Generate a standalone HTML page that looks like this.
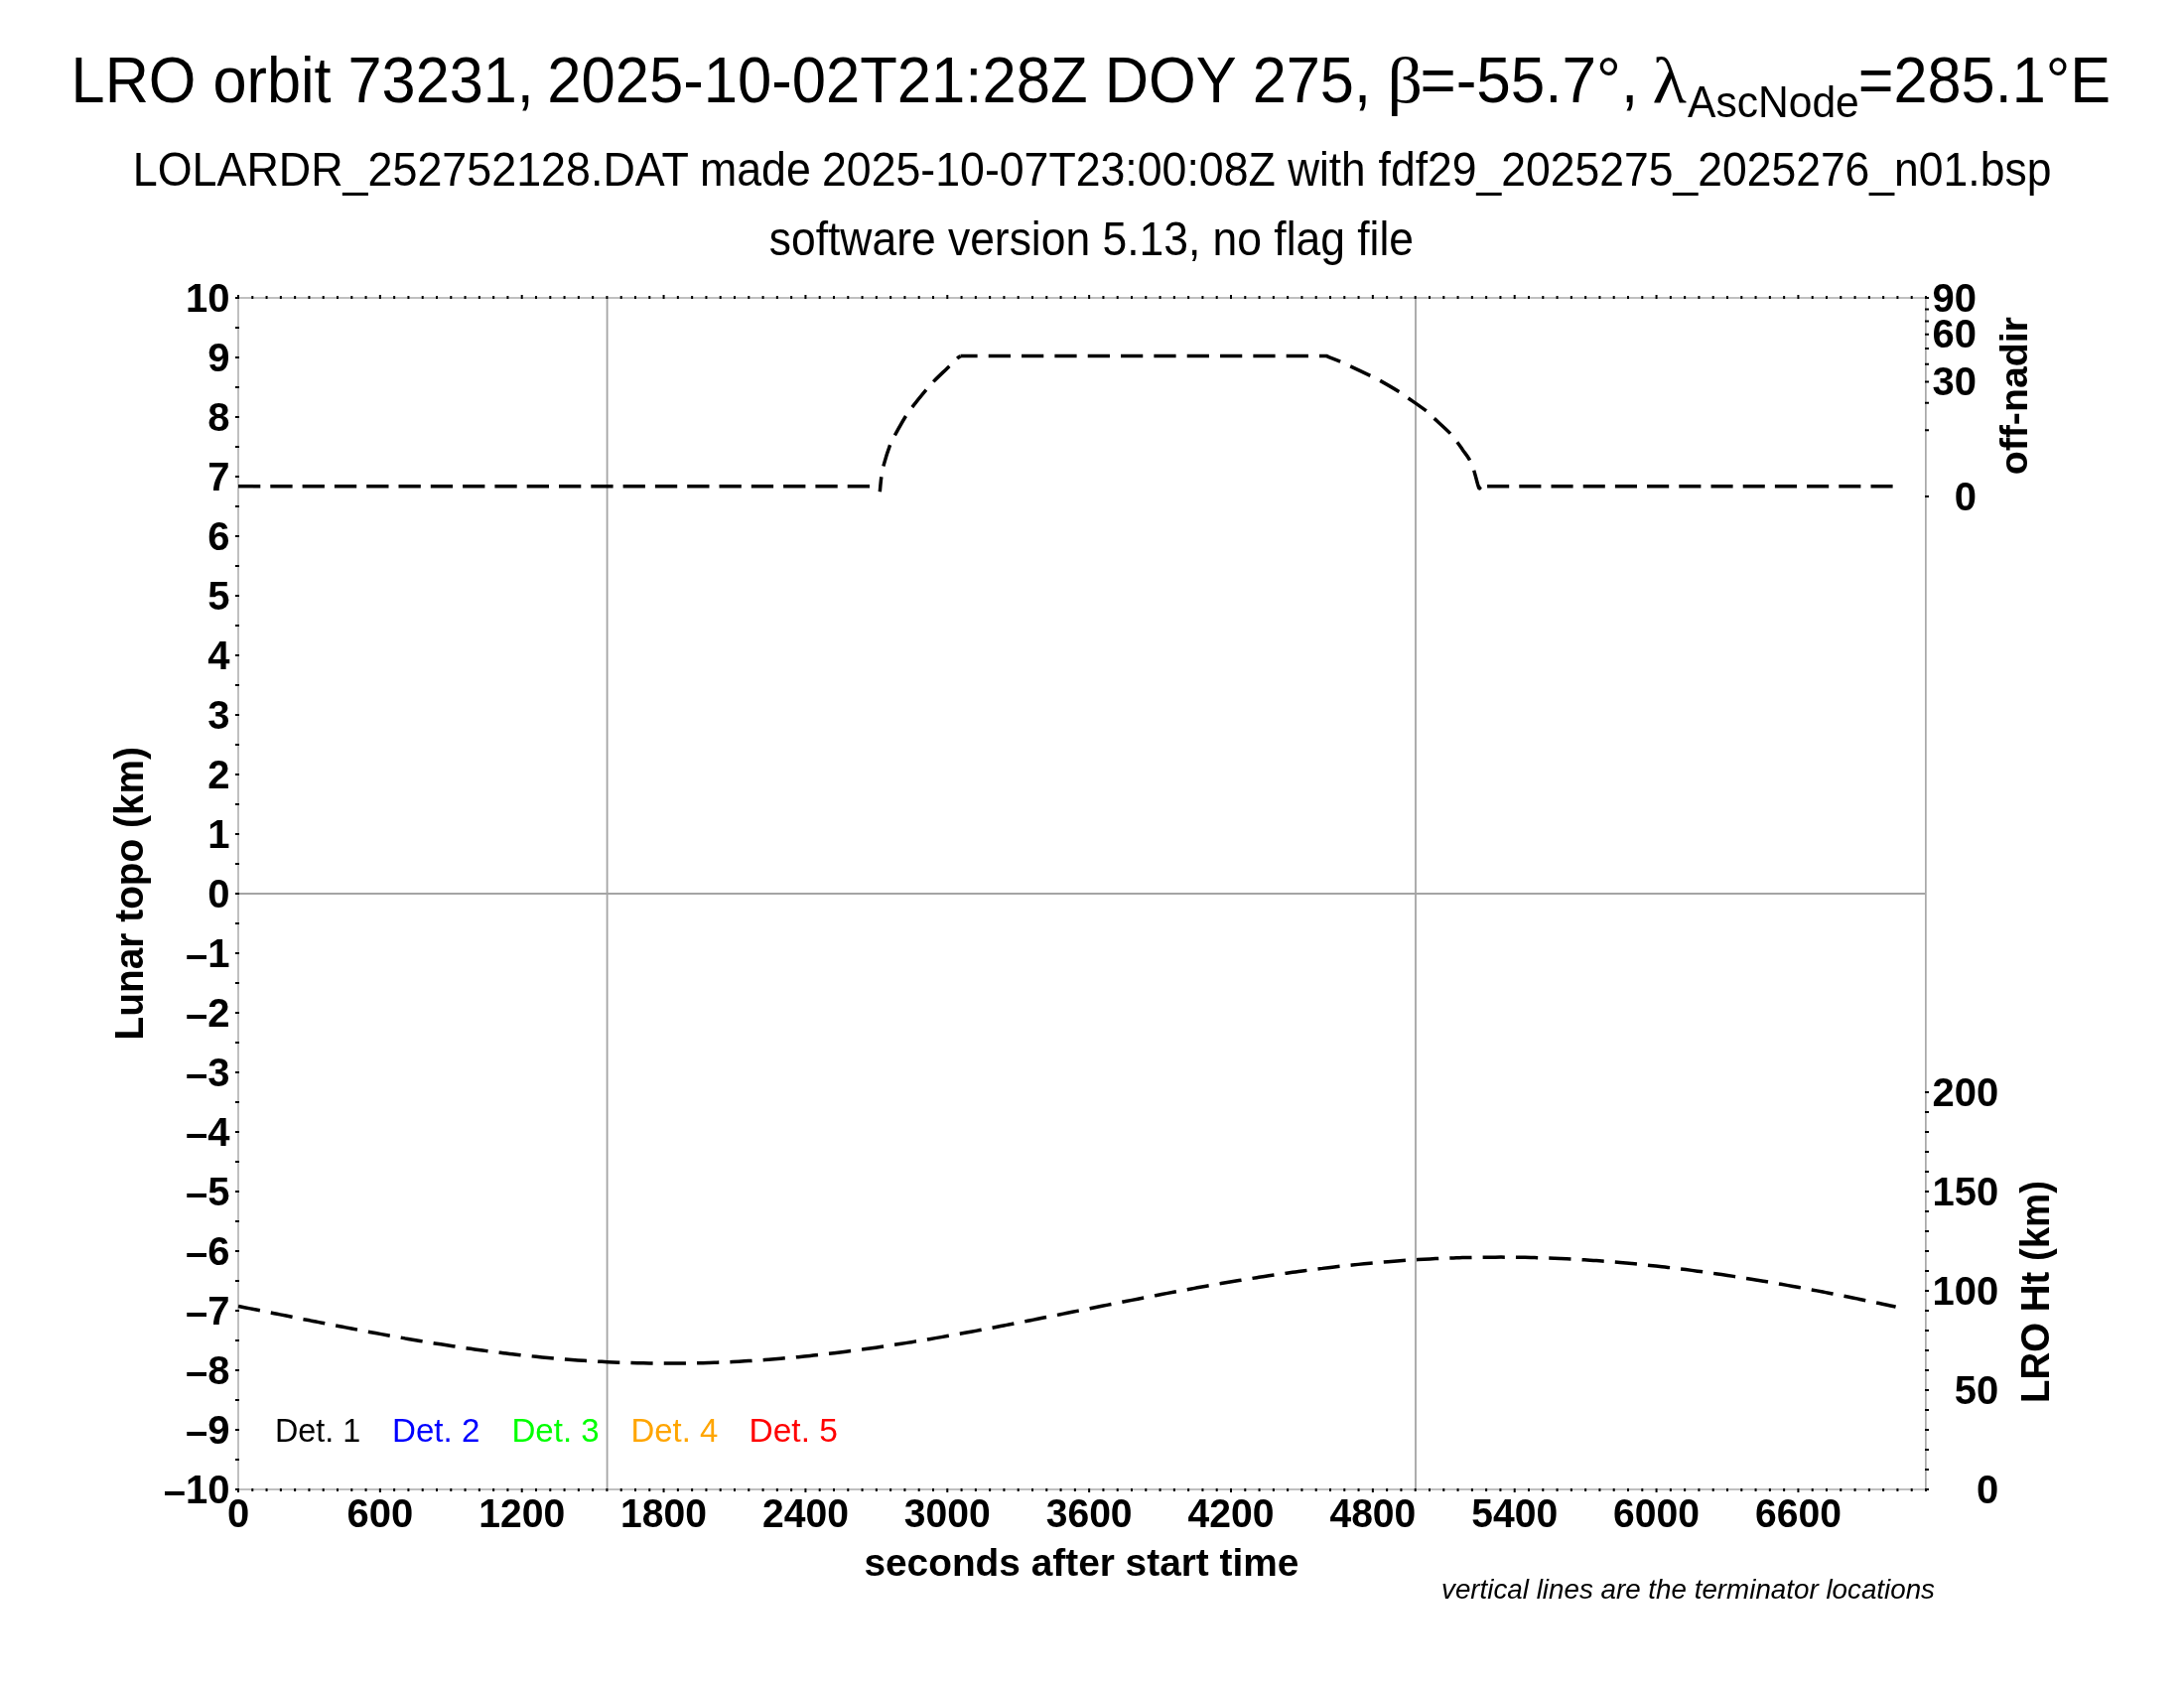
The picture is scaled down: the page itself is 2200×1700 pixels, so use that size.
<!DOCTYPE html><html><head><meta charset="utf-8"><style>html,body{margin:0;padding:0;background:#fff;width:2200px;height:1700px;overflow:hidden}svg{display:block;will-change:transform}text{font-family:"Liberation Sans",sans-serif}</style></head><body>
<svg width="2200" height="1700" viewBox="0 0 2200 1700">
<rect x="0" y="0" width="2200" height="1700" fill="#fff"/>
<line x1="240" y1="900" x2="1940" y2="900" stroke="#a4a4a4" stroke-width="2"/>
<line x1="611.6" y1="300" x2="611.6" y2="1500" stroke="#a4a4a4" stroke-width="1.8"/>
<line x1="1426.0" y1="300" x2="1426.0" y2="1500" stroke="#a4a4a4" stroke-width="1.8"/>
<rect x="240" y="300" width="1700" height="1200" fill="none" stroke="#c0c0c0" stroke-width="2"/>
<line x1="1939.5" y1="300" x2="1939.5" y2="1500" stroke="#a9a9a9" stroke-width="1"/>
<path d="M240.00 1499v4M240.00 301v-4M254.29 1499v3M254.29 301v-3M268.57 1499v3M268.57 301v-3M282.86 1499v3M282.86 301v-3M297.14 1499v3M297.14 301v-3M311.43 1499v3M311.43 301v-3M325.71 1499v3M325.71 301v-3M340.00 1499v3M340.00 301v-3M354.29 1499v3M354.29 301v-3M368.57 1499v3M368.57 301v-3M382.86 1499v4M382.86 301v-4M397.14 1499v3M397.14 301v-3M411.43 1499v3M411.43 301v-3M425.71 1499v3M425.71 301v-3M440.00 1499v3M440.00 301v-3M454.29 1499v3M454.29 301v-3M468.57 1499v3M468.57 301v-3M482.86 1499v3M482.86 301v-3M497.14 1499v3M497.14 301v-3M511.43 1499v3M511.43 301v-3M525.71 1499v4M525.71 301v-4M540.00 1499v3M540.00 301v-3M554.29 1499v3M554.29 301v-3M568.57 1499v3M568.57 301v-3M582.86 1499v3M582.86 301v-3M597.14 1499v3M597.14 301v-3M611.43 1499v3M611.43 301v-3M625.71 1499v3M625.71 301v-3M640.00 1499v3M640.00 301v-3M654.29 1499v3M654.29 301v-3M668.57 1499v4M668.57 301v-4M682.86 1499v3M682.86 301v-3M697.14 1499v3M697.14 301v-3M711.43 1499v3M711.43 301v-3M725.71 1499v3M725.71 301v-3M740.00 1499v3M740.00 301v-3M754.29 1499v3M754.29 301v-3M768.57 1499v3M768.57 301v-3M782.86 1499v3M782.86 301v-3M797.14 1499v3M797.14 301v-3M811.43 1499v4M811.43 301v-4M825.71 1499v3M825.71 301v-3M840.00 1499v3M840.00 301v-3M854.29 1499v3M854.29 301v-3M868.57 1499v3M868.57 301v-3M882.86 1499v3M882.86 301v-3M897.14 1499v3M897.14 301v-3M911.43 1499v3M911.43 301v-3M925.71 1499v3M925.71 301v-3M940.00 1499v3M940.00 301v-3M954.29 1499v4M954.29 301v-4M968.57 1499v3M968.57 301v-3M982.86 1499v3M982.86 301v-3M997.14 1499v3M997.14 301v-3M1011.43 1499v3M1011.43 301v-3M1025.71 1499v3M1025.71 301v-3M1040.00 1499v3M1040.00 301v-3M1054.29 1499v3M1054.29 301v-3M1068.57 1499v3M1068.57 301v-3M1082.86 1499v3M1082.86 301v-3M1097.14 1499v4M1097.14 301v-4M1111.43 1499v3M1111.43 301v-3M1125.71 1499v3M1125.71 301v-3M1140.00 1499v3M1140.00 301v-3M1154.29 1499v3M1154.29 301v-3M1168.57 1499v3M1168.57 301v-3M1182.86 1499v3M1182.86 301v-3M1197.14 1499v3M1197.14 301v-3M1211.43 1499v3M1211.43 301v-3M1225.71 1499v3M1225.71 301v-3M1240.00 1499v4M1240.00 301v-4M1254.29 1499v3M1254.29 301v-3M1268.57 1499v3M1268.57 301v-3M1282.86 1499v3M1282.86 301v-3M1297.14 1499v3M1297.14 301v-3M1311.43 1499v3M1311.43 301v-3M1325.71 1499v3M1325.71 301v-3M1340.00 1499v3M1340.00 301v-3M1354.29 1499v3M1354.29 301v-3M1368.57 1499v3M1368.57 301v-3M1382.86 1499v4M1382.86 301v-4M1397.14 1499v3M1397.14 301v-3M1411.43 1499v3M1411.43 301v-3M1425.71 1499v3M1425.71 301v-3M1440.00 1499v3M1440.00 301v-3M1454.29 1499v3M1454.29 301v-3M1468.57 1499v3M1468.57 301v-3M1482.86 1499v3M1482.86 301v-3M1497.14 1499v3M1497.14 301v-3M1511.43 1499v3M1511.43 301v-3M1525.71 1499v4M1525.71 301v-4M1540.00 1499v3M1540.00 301v-3M1554.29 1499v3M1554.29 301v-3M1568.57 1499v3M1568.57 301v-3M1582.86 1499v3M1582.86 301v-3M1597.14 1499v3M1597.14 301v-3M1611.43 1499v3M1611.43 301v-3M1625.71 1499v3M1625.71 301v-3M1640.00 1499v3M1640.00 301v-3M1654.29 1499v3M1654.29 301v-3M1668.57 1499v4M1668.57 301v-4M1682.86 1499v3M1682.86 301v-3M1697.14 1499v3M1697.14 301v-3M1711.43 1499v3M1711.43 301v-3M1725.71 1499v3M1725.71 301v-3M1740.00 1499v3M1740.00 301v-3M1754.29 1499v3M1754.29 301v-3M1768.57 1499v3M1768.57 301v-3M1782.86 1499v3M1782.86 301v-3M1797.14 1499v3M1797.14 301v-3M1811.43 1499v4M1811.43 301v-4M1825.71 1499v3M1825.71 301v-3M1840.00 1499v3M1840.00 301v-3M1854.29 1499v3M1854.29 301v-3M1868.57 1499v3M1868.57 301v-3M1882.86 1499v3M1882.86 301v-3M1897.14 1499v3M1897.14 301v-3M1911.43 1499v3M1911.43 301v-3M1925.71 1499v3M1925.71 301v-3M1940.00 1499v3M1940.00 301v-3M241 300h-4M241 330h-4M241 360h-4M241 390h-4M241 420h-4M241 450h-4M241 480h-4M241 510h-4M241 540h-4M241 570h-4M241 600h-4M241 630h-4M241 660h-4M241 690h-4M241 720h-4M241 750h-4M241 780h-4M241 810h-4M241 840h-4M241 870h-4M241 900h-4M241 930h-4M241 960h-4M241 990h-4M241 1020h-4M241 1050h-4M241 1080h-4M241 1110h-4M241 1140h-4M241 1170h-4M241 1200h-4M241 1230h-4M241 1260h-4M241 1290h-4M241 1320h-4M241 1350h-4M241 1380h-4M241 1410h-4M241 1440h-4M241 1470h-4M241 1500h-4M1939 500.00h4M1939 433.33h4M1939 405.72h4M1939 384.53h4M1939 366.67h4M1939 350.93h4M1939 336.70h4M1939 323.62h4M1939 311.44h4M1939 300.00h4M1939 1500.00h4M1939 1480.00h4M1939 1460.00h4M1939 1440.00h4M1939 1420.00h4M1939 1400.00h4M1939 1380.00h4M1939 1360.00h4M1939 1340.00h4M1939 1320.00h4M1939 1300.00h4M1939 1280.00h4M1939 1260.00h4M1939 1240.00h4M1939 1220.00h4M1939 1200.00h4M1939 1180.00h4M1939 1160.00h4M1939 1140.00h4M1939 1120.00h4M1939 1100.00h4" stroke="#000" stroke-width="2" fill="none"/>
<path d="M240 489.7L885.5 489.7" stroke="#000" stroke-width="3.5" fill="none" stroke-dasharray="22.3 10.0" stroke-dashoffset="0" stroke-linejoin="round"/>
<path d="M886.30 495.30C886.55 492.82 887.17 484.85 887.80 480.40C888.43 475.95 888.65 473.95 890.10 468.60C891.55 463.25 894.55 453.45 896.50 448.30C898.45 443.15 899.13 442.58 901.80 437.70C904.47 432.82 909.57 423.72 912.50 419.00C915.43 414.28 916.03 413.75 919.40 409.40C922.77 405.05 929.23 397.07 932.70 392.90C936.17 388.73 936.37 388.32 940.20 384.40C944.03 380.48 951.78 373.23 955.70 369.40C959.62 365.57 961.73 363.22 963.70 361.40C965.67 359.58 966.87 358.98 967.50 358.50" stroke="#000" stroke-width="3.5" fill="none" stroke-dasharray="22.22 11.11" stroke-dashoffset="7.2" stroke-linejoin="round"/>
<path d="M967.5 358.5L1336 358.5C1338.35 359.43 1346.05 362.37 1350.10 364.10C1354.15 365.83 1355.23 366.50 1360.30 368.90C1365.37 371.30 1375.53 376.10 1380.50 378.50C1385.47 380.90 1385.30 380.63 1390.10 383.30C1394.90 385.97 1404.58 391.57 1409.30 394.50C1414.02 397.43 1413.87 397.70 1418.40 400.90C1422.93 404.10 1432.15 410.32 1436.50 413.70C1440.85 417.08 1440.50 417.47 1444.50 421.20C1448.50 424.93 1456.68 432.20 1460.50 436.10C1464.32 440.00 1465.23 441.75 1467.40 444.60C1469.57 447.45 1471.37 450.17 1473.50 453.20C1475.63 456.23 1478.35 459.43 1480.20 462.80C1482.05 466.17 1483.03 468.70 1484.60 473.40C1486.17 478.10 1488.45 488.28 1489.60 491.00C1490.75 493.72 1491.18 489.92 1491.50 489.70" stroke="#000" stroke-width="3.5" fill="none" stroke-dasharray="22.22 11.11" stroke-dashoffset="5.1" stroke-linejoin="round"/>
<path d="M1491.5 489.7L1907.5 489.7" stroke="#000" stroke-width="3.5" fill="none" stroke-dasharray="22.1 10.1" stroke-dashoffset="25.6" stroke-linejoin="round"/>
<path d="M240.10 1315.46C241.10 1315.66 244.10 1316.26 246.10 1316.66C248.10 1317.06 250.10 1317.46 252.10 1317.85C254.10 1318.25 256.10 1318.65 258.10 1319.05C260.10 1319.45 262.10 1319.85 264.10 1320.25C266.10 1320.65 268.10 1321.06 270.10 1321.46C272.10 1321.86 274.10 1322.26 276.10 1322.66C278.10 1323.06 280.10 1323.46 282.10 1323.86C284.10 1324.26 286.10 1324.66 288.10 1325.06C290.10 1325.46 292.10 1325.86 294.10 1326.26C296.10 1326.66 298.10 1327.06 300.10 1327.46C302.10 1327.86 304.10 1328.26 306.10 1328.66C308.10 1329.05 310.10 1329.45 312.10 1329.85C314.10 1330.24 316.10 1330.64 318.10 1331.03C320.10 1331.43 322.10 1331.82 324.10 1332.22C326.10 1332.61 328.10 1333.00 330.10 1333.39C332.10 1333.79 334.10 1334.18 336.10 1334.57C338.10 1334.95 340.10 1335.34 342.10 1335.73C344.10 1336.12 346.10 1336.50 348.10 1336.89C350.10 1337.27 352.10 1337.65 354.10 1338.03C356.10 1338.42 358.10 1338.80 360.10 1339.17C362.10 1339.55 364.10 1339.93 366.10 1340.30C368.10 1340.68 370.10 1341.05 372.10 1341.42C374.10 1341.80 376.10 1342.17 378.10 1342.53C380.10 1342.90 382.10 1343.27 384.10 1343.63C386.10 1344.00 388.10 1344.36 390.10 1344.72C392.10 1345.08 394.10 1345.44 396.10 1345.79C398.10 1346.15 400.10 1346.50 402.10 1346.85C404.10 1347.20 406.10 1347.55 408.10 1347.90C410.10 1348.24 412.10 1348.59 414.10 1348.93C416.10 1349.27 418.10 1349.61 420.10 1349.95C422.10 1350.28 424.10 1350.62 426.10 1350.95C428.10 1351.28 430.10 1351.61 432.10 1351.93C434.10 1352.26 436.10 1352.58 438.10 1352.90C440.10 1353.22 442.10 1353.54 444.10 1353.85C446.10 1354.17 448.10 1354.48 450.10 1354.79C452.10 1355.09 454.10 1355.40 456.10 1355.70C458.10 1356.00 460.10 1356.30 462.10 1356.60C464.10 1356.89 466.10 1357.19 468.10 1357.48C470.10 1357.76 472.10 1358.05 474.10 1358.33C476.10 1358.62 478.10 1358.89 480.10 1359.17C482.10 1359.45 484.10 1359.72 486.10 1359.99C488.10 1360.25 490.10 1360.52 492.10 1360.78C494.10 1361.04 496.10 1361.30 498.10 1361.56C500.10 1361.81 502.10 1362.06 504.10 1362.31C506.10 1362.55 508.10 1362.80 510.10 1363.04C512.10 1363.27 514.10 1363.51 516.10 1363.74C518.10 1363.97 520.10 1364.20 522.10 1364.42C524.10 1364.65 526.10 1364.87 528.10 1365.08C530.10 1365.30 532.10 1365.51 534.10 1365.72C536.10 1365.93 538.10 1366.13 540.10 1366.33C542.10 1366.53 544.10 1366.73 546.10 1366.92C548.10 1367.11 550.10 1367.30 552.10 1367.48C554.10 1367.66 556.10 1367.84 558.10 1368.02C560.10 1368.19 562.10 1368.36 564.10 1368.53C566.10 1368.69 568.10 1368.85 570.10 1369.01C572.10 1369.17 574.10 1369.32 576.10 1369.47C578.10 1369.62 580.10 1369.76 582.10 1369.90C584.10 1370.04 586.10 1370.18 588.10 1370.31C590.10 1370.44 592.10 1370.57 594.10 1370.69C596.10 1370.81 598.10 1370.93 600.10 1371.04C602.10 1371.15 604.10 1371.26 606.10 1371.37C608.10 1371.47 610.10 1371.57 612.10 1371.66C614.10 1371.76 616.10 1371.85 618.10 1371.93C620.10 1372.02 622.10 1372.10 624.10 1372.18C626.10 1372.25 628.10 1372.33 630.10 1372.39C632.10 1372.46 634.10 1372.52 636.10 1372.58C638.10 1372.64 640.10 1372.69 642.10 1372.74C644.10 1372.79 646.10 1372.83 648.10 1372.87C650.10 1372.91 652.10 1372.95 654.10 1372.98C656.10 1373.01 658.10 1373.03 660.10 1373.05C662.10 1373.07 664.10 1373.09 666.10 1373.10C668.10 1373.11 670.10 1373.12 672.10 1373.12C674.10 1373.12 676.10 1373.12 678.10 1373.11C680.10 1373.11 682.10 1373.09 684.10 1373.08C686.10 1373.06 688.10 1373.04 690.10 1373.01C692.10 1372.99 694.10 1372.96 696.10 1372.92C698.10 1372.89 700.10 1372.85 702.10 1372.80C704.10 1372.76 706.10 1372.71 708.10 1372.65C710.10 1372.60 712.10 1372.54 714.10 1372.48C716.10 1372.42 718.10 1372.35 720.10 1372.28C722.10 1372.20 724.10 1372.13 726.10 1372.04C728.10 1371.96 730.10 1371.88 732.10 1371.79C734.10 1371.70 736.10 1371.60 738.10 1371.50C740.10 1371.40 742.10 1371.30 744.10 1371.19C746.10 1371.08 748.10 1370.97 750.10 1370.85C752.10 1370.74 754.10 1370.61 756.10 1370.49C758.10 1370.36 760.10 1370.23 762.10 1370.10C764.10 1369.96 766.10 1369.82 768.10 1369.68C770.10 1369.53 772.10 1369.39 774.10 1369.23C776.10 1369.08 778.10 1368.93 780.10 1368.77C782.10 1368.60 784.10 1368.44 786.10 1368.27C788.10 1368.10 790.10 1367.93 792.10 1367.75C794.10 1367.57 796.10 1367.39 798.10 1367.21C800.10 1367.02 802.10 1366.83 804.10 1366.64C806.10 1366.44 808.10 1366.25 810.10 1366.04C812.10 1365.84 814.10 1365.64 816.10 1365.43C818.10 1365.22 820.10 1365.00 822.10 1364.79C824.10 1364.57 826.10 1364.35 828.10 1364.12C830.10 1363.90 832.10 1363.67 834.10 1363.43C836.10 1363.20 838.10 1362.96 840.10 1362.72C842.10 1362.48 844.10 1362.24 846.10 1361.99C848.10 1361.75 850.10 1361.49 852.10 1361.24C854.10 1360.99 856.10 1360.73 858.10 1360.47C860.10 1360.20 862.10 1359.94 864.10 1359.67C866.10 1359.40 868.10 1359.13 870.10 1358.85C872.10 1358.58 874.10 1358.30 876.10 1358.02C878.10 1357.74 880.10 1357.45 882.10 1357.16C884.10 1356.87 886.10 1356.58 888.10 1356.29C890.10 1355.99 892.10 1355.70 894.10 1355.40C896.10 1355.09 898.10 1354.79 900.10 1354.48C902.10 1354.18 904.10 1353.87 906.10 1353.55C908.10 1353.24 910.10 1352.93 912.10 1352.61C914.10 1352.29 916.10 1351.97 918.10 1351.65C920.10 1351.32 922.10 1351.00 924.10 1350.67C926.10 1350.34 928.10 1350.01 930.10 1349.67C932.10 1349.34 934.10 1349.00 936.10 1348.66C938.10 1348.32 940.10 1347.98 942.10 1347.64C944.10 1347.29 946.10 1346.95 948.10 1346.60C950.10 1346.25 952.10 1345.90 954.10 1345.55C956.10 1345.19 958.10 1344.84 960.10 1344.48C962.10 1344.12 964.10 1343.76 966.10 1343.40C968.10 1343.04 970.10 1342.68 972.10 1342.31C974.10 1341.95 976.10 1341.58 978.10 1341.21C980.10 1340.84 982.10 1340.47 984.10 1340.10C986.10 1339.73 988.10 1339.35 990.10 1338.98C992.10 1338.60 994.10 1338.22 996.10 1337.85C998.10 1337.47 1000.10 1337.09 1002.10 1336.71C1004.10 1336.32 1006.10 1335.94 1008.10 1335.56C1010.10 1335.17 1012.10 1334.79 1014.10 1334.40C1016.10 1334.01 1018.10 1333.62 1020.10 1333.24C1022.10 1332.85 1024.10 1332.46 1026.10 1332.06C1028.10 1331.67 1030.10 1331.28 1032.10 1330.89C1034.10 1330.49 1036.10 1330.10 1038.10 1329.70C1040.10 1329.31 1042.10 1328.91 1044.10 1328.52C1046.10 1328.12 1048.10 1327.72 1050.10 1327.33C1052.10 1326.93 1054.10 1326.53 1056.10 1326.13C1058.10 1325.73 1060.10 1325.33 1062.10 1324.93C1064.10 1324.53 1066.10 1324.13 1068.10 1323.73C1070.10 1323.33 1072.10 1322.93 1074.10 1322.53C1076.10 1322.13 1078.10 1321.73 1080.10 1321.33C1082.10 1320.92 1084.10 1320.52 1086.10 1320.12C1088.10 1319.72 1090.10 1319.32 1092.10 1318.92C1094.10 1318.52 1096.10 1318.11 1098.10 1317.71C1100.10 1317.31 1102.10 1316.91 1104.10 1316.51C1106.10 1316.11 1108.10 1315.71 1110.10 1315.31C1112.10 1314.91 1114.10 1314.51 1116.10 1314.11C1118.10 1313.71 1120.10 1313.32 1122.10 1312.92C1124.10 1312.52 1126.10 1312.12 1128.10 1311.73C1130.10 1311.33 1132.10 1310.93 1134.10 1310.54C1136.10 1310.14 1138.10 1309.75 1140.10 1309.36C1142.10 1308.96 1144.10 1308.57 1146.10 1308.18C1148.10 1307.79 1150.10 1307.40 1152.10 1307.01C1154.10 1306.62 1156.10 1306.23 1158.10 1305.84C1160.10 1305.46 1162.10 1305.07 1164.10 1304.69C1166.10 1304.30 1168.10 1303.92 1170.10 1303.54C1172.10 1303.15 1174.10 1302.77 1176.10 1302.40C1178.10 1302.02 1180.10 1301.64 1182.10 1301.26C1184.10 1300.89 1186.10 1300.51 1188.10 1300.14C1190.10 1299.77 1192.10 1299.40 1194.10 1299.03C1196.10 1298.66 1198.10 1298.29 1200.10 1297.93C1202.10 1297.56 1204.10 1297.20 1206.10 1296.83C1208.10 1296.47 1210.10 1296.11 1212.10 1295.75C1214.10 1295.40 1216.10 1295.04 1218.10 1294.69C1220.10 1294.33 1222.10 1293.98 1224.10 1293.63C1226.10 1293.28 1228.10 1292.94 1230.10 1292.59C1232.10 1292.25 1234.10 1291.90 1236.10 1291.56C1238.10 1291.22 1240.10 1290.89 1242.10 1290.55C1244.10 1290.22 1246.10 1289.88 1248.10 1289.55C1250.10 1289.22 1252.10 1288.89 1254.10 1288.57C1256.10 1288.24 1258.10 1287.92 1260.10 1287.60C1262.10 1287.28 1264.10 1286.96 1266.10 1286.65C1268.10 1286.34 1270.10 1286.02 1272.10 1285.72C1274.10 1285.41 1276.10 1285.10 1278.10 1284.80C1280.10 1284.50 1282.10 1284.20 1284.10 1283.90C1286.10 1283.60 1288.10 1283.31 1290.10 1283.02C1292.10 1282.73 1294.10 1282.44 1296.10 1282.15C1298.10 1281.87 1300.10 1281.59 1302.10 1281.31C1304.10 1281.03 1306.10 1280.76 1308.10 1280.48C1310.10 1280.21 1312.10 1279.94 1314.10 1279.68C1316.10 1279.41 1318.10 1279.15 1320.10 1278.89C1322.10 1278.63 1324.10 1278.38 1326.10 1278.13C1328.10 1277.88 1330.10 1277.63 1332.10 1277.38C1334.10 1277.14 1336.10 1276.90 1338.10 1276.66C1340.10 1276.42 1342.10 1276.19 1344.10 1275.96C1346.10 1275.73 1348.10 1275.50 1350.10 1275.28C1352.10 1275.06 1354.10 1274.84 1356.10 1274.62C1358.10 1274.41 1360.10 1274.20 1362.10 1273.99C1364.10 1273.78 1366.10 1273.58 1368.10 1273.38C1370.10 1273.18 1372.10 1272.98 1374.10 1272.79C1376.10 1272.60 1378.10 1272.41 1380.10 1272.22C1382.10 1272.04 1384.10 1271.86 1386.10 1271.68C1388.10 1271.50 1390.10 1271.33 1392.10 1271.16C1394.10 1270.99 1396.10 1270.83 1398.10 1270.67C1400.10 1270.51 1402.10 1270.35 1404.10 1270.20C1406.10 1270.05 1408.10 1269.90 1410.10 1269.76C1412.10 1269.61 1414.10 1269.47 1416.10 1269.34C1418.10 1269.20 1420.10 1269.07 1422.10 1268.94C1424.10 1268.81 1426.10 1268.69 1428.10 1268.57C1430.10 1268.45 1432.10 1268.34 1434.10 1268.23C1436.10 1268.12 1438.10 1268.01 1440.10 1267.91C1442.10 1267.81 1444.10 1267.71 1446.10 1267.62C1448.10 1267.52 1450.10 1267.43 1452.10 1267.35C1454.10 1267.26 1456.10 1267.18 1458.10 1267.11C1460.10 1267.03 1462.10 1266.96 1464.10 1266.89C1466.10 1266.83 1468.10 1266.76 1470.10 1266.70C1472.10 1266.65 1474.10 1266.59 1476.10 1266.54C1478.10 1266.49 1480.10 1266.45 1482.10 1266.41C1484.10 1266.36 1486.10 1266.33 1488.10 1266.30C1490.10 1266.26 1492.10 1266.24 1494.10 1266.21C1496.10 1266.19 1498.10 1266.17 1500.10 1266.16C1502.10 1266.14 1504.10 1266.13 1506.10 1266.13C1508.10 1266.12 1510.10 1266.12 1512.10 1266.12C1514.10 1266.12 1516.10 1266.13 1518.10 1266.14C1520.10 1266.16 1522.10 1266.17 1524.10 1266.19C1526.10 1266.21 1528.10 1266.24 1530.10 1266.27C1532.10 1266.30 1534.10 1266.33 1536.10 1266.37C1538.10 1266.41 1540.10 1266.45 1542.10 1266.50C1544.10 1266.54 1546.10 1266.60 1548.10 1266.65C1550.10 1266.71 1552.10 1266.77 1554.10 1266.83C1556.10 1266.90 1558.10 1266.96 1560.10 1267.04C1562.10 1267.11 1564.10 1267.19 1566.10 1267.27C1568.10 1267.35 1570.10 1267.44 1572.10 1267.53C1574.10 1267.62 1576.10 1267.71 1578.10 1267.81C1580.10 1267.91 1582.10 1268.01 1584.10 1268.12C1586.10 1268.23 1588.10 1268.34 1590.10 1268.46C1592.10 1268.57 1594.10 1268.69 1596.10 1268.82C1598.10 1268.94 1600.10 1269.07 1602.10 1269.20C1604.10 1269.34 1606.10 1269.47 1608.10 1269.61C1610.10 1269.75 1612.10 1269.90 1614.10 1270.05C1616.10 1270.20 1618.10 1270.35 1620.10 1270.51C1622.10 1270.66 1624.10 1270.83 1626.10 1270.99C1628.10 1271.16 1630.10 1271.33 1632.10 1271.50C1634.10 1271.67 1636.10 1271.85 1638.10 1272.03C1640.10 1272.21 1642.10 1272.40 1644.10 1272.59C1646.10 1272.78 1648.10 1272.97 1650.10 1273.16C1652.10 1273.36 1654.10 1273.56 1656.10 1273.77C1658.10 1273.97 1660.10 1274.18 1662.10 1274.39C1664.10 1274.60 1666.10 1274.82 1668.10 1275.04C1670.10 1275.26 1672.10 1275.48 1674.10 1275.71C1676.10 1275.94 1678.10 1276.17 1680.10 1276.40C1682.10 1276.63 1684.10 1276.87 1686.10 1277.11C1688.10 1277.35 1690.10 1277.60 1692.10 1277.85C1694.10 1278.10 1696.10 1278.35 1698.10 1278.60C1700.10 1278.86 1702.10 1279.12 1704.10 1279.38C1706.10 1279.64 1708.10 1279.91 1710.10 1280.18C1712.10 1280.45 1714.10 1280.72 1716.10 1280.99C1718.10 1281.27 1720.10 1281.55 1722.10 1281.83C1724.10 1282.11 1726.10 1282.40 1728.10 1282.69C1730.10 1282.98 1732.10 1283.27 1734.10 1283.56C1736.10 1283.86 1738.10 1284.16 1740.10 1284.46C1742.10 1284.76 1744.10 1285.06 1746.10 1285.37C1748.10 1285.68 1750.10 1285.99 1752.10 1286.30C1754.10 1286.61 1756.10 1286.93 1758.10 1287.25C1760.10 1287.57 1762.10 1287.89 1764.10 1288.22C1766.10 1288.54 1768.10 1288.87 1770.10 1289.20C1772.10 1289.53 1774.10 1289.86 1776.10 1290.20C1778.10 1290.54 1780.10 1290.87 1782.10 1291.22C1784.10 1291.56 1786.10 1291.90 1788.10 1292.25C1790.10 1292.59 1792.10 1292.94 1794.10 1293.30C1796.10 1293.65 1798.10 1294.00 1800.10 1294.36C1802.10 1294.72 1804.10 1295.08 1806.10 1295.44C1808.10 1295.80 1810.10 1296.16 1812.10 1296.53C1814.10 1296.90 1816.10 1297.27 1818.10 1297.64C1820.10 1298.01 1822.10 1298.38 1824.10 1298.76C1826.10 1299.14 1828.10 1299.51 1830.10 1299.90C1832.10 1300.28 1834.10 1300.66 1836.10 1301.04C1838.10 1301.43 1840.10 1301.82 1842.10 1302.21C1844.10 1302.59 1846.10 1302.99 1848.10 1303.38C1850.10 1303.77 1852.10 1304.17 1854.10 1304.57C1856.10 1304.96 1858.10 1305.36 1860.10 1305.77C1862.10 1306.17 1864.10 1306.57 1866.10 1306.98C1868.10 1307.38 1870.10 1307.79 1872.10 1308.20C1874.10 1308.61 1876.10 1309.02 1878.10 1309.43C1880.10 1309.85 1882.10 1310.26 1884.10 1310.68C1886.10 1311.10 1888.10 1311.52 1890.10 1311.94C1892.10 1312.36 1894.10 1312.78 1896.10 1313.20C1898.10 1313.63 1900.10 1314.06 1902.10 1314.48C1904.10 1314.91 1906.85 1315.50 1908.10 1315.77C1909.35 1316.04 1909.35 1316.04 1909.60 1316.10" stroke="#000" stroke-width="3.5" fill="none" stroke-dasharray="22.22 11.11" stroke-dashoffset="0" stroke-linejoin="round"/>
<text x="71.6" y="103" font-size="65.3" textLength="466.2" lengthAdjust="spacingAndGlyphs">LRO orbit 73231,</text>
<text x="551.2" y="103" font-size="65.3" textLength="544.4" lengthAdjust="spacingAndGlyphs">2025-10-02T21:28Z</text>
<text x="1112.8" y="103" font-size="65.3" textLength="268.2" lengthAdjust="spacingAndGlyphs">DOY 275,</text>
<text x="1397.6" y="103" font-size="65.3" textLength="35.4" lengthAdjust="spacingAndGlyphs" style="font-family:&quot;Liberation Serif&quot;,serif">&#946;</text>
<text x="1430.4" y="103" font-size="65.3" textLength="219.8" lengthAdjust="spacingAndGlyphs">=-55.7&#176;,</text>
<text x="1664.6" y="103" font-size="65.3" textLength="34.4" lengthAdjust="spacingAndGlyphs" style="font-family:&quot;Liberation Serif&quot;,serif">&#955;</text>
<text x="1700.0" y="117.8" font-size="44.9" textLength="172.8" lengthAdjust="spacingAndGlyphs">AscNode</text>
<text x="1871.8" y="103" font-size="65.3" textLength="254.2" lengthAdjust="spacingAndGlyphs">=285.1&#176;E</text>
<text x="133.8" y="186.9" font-size="47.4" textLength="560.0" lengthAdjust="spacingAndGlyphs">LOLARDR_252752128.DAT</text>
<text x="705.0" y="186.9" font-size="47.4" textLength="111.8" lengthAdjust="spacingAndGlyphs">made</text>
<text x="828.0" y="186.9" font-size="47.4" textLength="456.8" lengthAdjust="spacingAndGlyphs">2025-10-07T23:00:08Z</text>
<text x="1297.2" y="186.9" font-size="47.4" textLength="78.4" lengthAdjust="spacingAndGlyphs">with</text>
<text x="1388.6" y="186.9" font-size="47.4" textLength="677.8" lengthAdjust="spacingAndGlyphs">fdf29_2025275_2025276_n01.bsp</text>
<text x="774.8" y="256.7" font-size="47.4" textLength="649.2" lengthAdjust="spacingAndGlyphs">software version 5.13, no flag file</text>
<text x="231.5" y="1513.7" font-size="40" font-weight="bold" text-anchor="end"><tspan dy="1.6">&#8211;</tspan><tspan dy="-1.6">10</tspan></text>
<text x="231.5" y="1453.7" font-size="40" font-weight="bold" text-anchor="end"><tspan dy="1.6">&#8211;</tspan><tspan dy="-1.6">9</tspan></text>
<text x="231.5" y="1393.7" font-size="40" font-weight="bold" text-anchor="end"><tspan dy="1.6">&#8211;</tspan><tspan dy="-1.6">8</tspan></text>
<text x="231.5" y="1333.7" font-size="40" font-weight="bold" text-anchor="end"><tspan dy="1.6">&#8211;</tspan><tspan dy="-1.6">7</tspan></text>
<text x="231.5" y="1273.7" font-size="40" font-weight="bold" text-anchor="end"><tspan dy="1.6">&#8211;</tspan><tspan dy="-1.6">6</tspan></text>
<text x="231.5" y="1213.7" font-size="40" font-weight="bold" text-anchor="end"><tspan dy="1.6">&#8211;</tspan><tspan dy="-1.6">5</tspan></text>
<text x="231.5" y="1153.7" font-size="40" font-weight="bold" text-anchor="end"><tspan dy="1.6">&#8211;</tspan><tspan dy="-1.6">4</tspan></text>
<text x="231.5" y="1093.7" font-size="40" font-weight="bold" text-anchor="end"><tspan dy="1.6">&#8211;</tspan><tspan dy="-1.6">3</tspan></text>
<text x="231.5" y="1033.7" font-size="40" font-weight="bold" text-anchor="end"><tspan dy="1.6">&#8211;</tspan><tspan dy="-1.6">2</tspan></text>
<text x="231.5" y="973.7" font-size="40" font-weight="bold" text-anchor="end"><tspan dy="1.6">&#8211;</tspan><tspan dy="-1.6">1</tspan></text>
<text x="231.5" y="913.7" font-size="40" font-weight="bold" text-anchor="end">0</text>
<text x="231.5" y="853.7" font-size="40" font-weight="bold" text-anchor="end">1</text>
<text x="231.5" y="793.7" font-size="40" font-weight="bold" text-anchor="end">2</text>
<text x="231.5" y="733.7" font-size="40" font-weight="bold" text-anchor="end">3</text>
<text x="231.5" y="673.7" font-size="40" font-weight="bold" text-anchor="end">4</text>
<text x="231.5" y="613.7" font-size="40" font-weight="bold" text-anchor="end">5</text>
<text x="231.5" y="553.7" font-size="40" font-weight="bold" text-anchor="end">6</text>
<text x="231.5" y="493.7" font-size="40" font-weight="bold" text-anchor="end">7</text>
<text x="231.5" y="433.7" font-size="40" font-weight="bold" text-anchor="end">8</text>
<text x="231.5" y="373.7" font-size="40" font-weight="bold" text-anchor="end">9</text>
<text x="231.5" y="313.7" font-size="40" font-weight="bold" text-anchor="end">10</text>
<text x="240.0" y="1537.5" font-size="40" font-weight="bold" text-anchor="middle">0</text>
<text x="382.86" y="1537.5" font-size="40" font-weight="bold" text-anchor="middle">600</text>
<text x="525.71" y="1537.5" font-size="40" font-weight="bold" text-anchor="middle" textLength="86.9" lengthAdjust="spacingAndGlyphs">1200</text>
<text x="668.57" y="1537.5" font-size="40" font-weight="bold" text-anchor="middle" textLength="86.9" lengthAdjust="spacingAndGlyphs">1800</text>
<text x="811.43" y="1537.5" font-size="40" font-weight="bold" text-anchor="middle" textLength="86.9" lengthAdjust="spacingAndGlyphs">2400</text>
<text x="954.29" y="1537.5" font-size="40" font-weight="bold" text-anchor="middle" textLength="86.9" lengthAdjust="spacingAndGlyphs">3000</text>
<text x="1097.14" y="1537.5" font-size="40" font-weight="bold" text-anchor="middle" textLength="86.9" lengthAdjust="spacingAndGlyphs">3600</text>
<text x="1240.0" y="1537.5" font-size="40" font-weight="bold" text-anchor="middle" textLength="86.9" lengthAdjust="spacingAndGlyphs">4200</text>
<text x="1382.86" y="1537.5" font-size="40" font-weight="bold" text-anchor="middle" textLength="86.9" lengthAdjust="spacingAndGlyphs">4800</text>
<text x="1525.71" y="1537.5" font-size="40" font-weight="bold" text-anchor="middle" textLength="86.9" lengthAdjust="spacingAndGlyphs">5400</text>
<text x="1668.57" y="1537.5" font-size="40" font-weight="bold" text-anchor="middle" textLength="86.9" lengthAdjust="spacingAndGlyphs">6000</text>
<text x="1811.43" y="1537.5" font-size="40" font-weight="bold" text-anchor="middle" textLength="86.9" lengthAdjust="spacingAndGlyphs">6600</text>
<text x="1991" y="313.7" font-size="40" font-weight="bold" text-anchor="end">90</text>
<text x="1991" y="350.4" font-size="40" font-weight="bold" text-anchor="end">60</text>
<text x="1991" y="398.23" font-size="40" font-weight="bold" text-anchor="end">30</text>
<text x="1991" y="513.7" font-size="40" font-weight="bold" text-anchor="end">0</text>
<text x="2013.3" y="1113.7" font-size="40" font-weight="bold" text-anchor="end">200</text>
<text x="2013.3" y="1213.7" font-size="40" font-weight="bold" text-anchor="end">150</text>
<text x="2013.3" y="1313.7" font-size="40" font-weight="bold" text-anchor="end">100</text>
<text x="2013.3" y="1413.7" font-size="40" font-weight="bold" text-anchor="end">50</text>
<text x="2013.3" y="1513.7" font-size="40" font-weight="bold" text-anchor="end">0</text>
<text x="1089.4" y="1586.6" font-size="38.8" font-weight="bold" text-anchor="middle" textLength="438.0" lengthAdjust="spacingAndGlyphs">seconds after start time</text>
<text x="0" y="0" font-size="40.5" font-weight="bold" text-anchor="middle" textLength="295.4" lengthAdjust="spacingAndGlyphs" transform="translate(144.4 899.7) rotate(-90)">Lunar topo (km)</text>
<text x="0" y="0" font-size="39" font-weight="bold" text-anchor="middle" textLength="159.2" lengthAdjust="spacingAndGlyphs" transform="translate(2041.8 398.7) rotate(-90)">off-nadir</text>
<text x="0" y="0" font-size="41" font-weight="bold" text-anchor="middle" textLength="224.0" lengthAdjust="spacingAndGlyphs" transform="translate(2064.0 1301.0) rotate(-90)">LRO Ht (km)</text>
<text x="277.0" y="1451.8" font-size="33.4" textLength="86.2" lengthAdjust="spacingAndGlyphs" fill="#000000">Det. 1</text>
<text x="395.0" y="1451.8" font-size="33.4" textLength="88.4" lengthAdjust="spacingAndGlyphs" fill="#0000ff">Det. 2</text>
<text x="515.5" y="1451.8" font-size="33.4" textLength="88.2" lengthAdjust="spacingAndGlyphs" fill="#00ff00">Det. 3</text>
<text x="635.5" y="1451.8" font-size="33.4" textLength="87.8" lengthAdjust="spacingAndGlyphs" fill="#ffa500">Det. 4</text>
<text x="754.5" y="1451.8" font-size="33.4" textLength="89.4" lengthAdjust="spacingAndGlyphs" fill="#ff0000">Det. 5</text>
<text x="1452.0" y="1610.1" font-size="28" font-style="italic" textLength="497.0" lengthAdjust="spacingAndGlyphs">vertical lines are the terminator locations</text>
</svg></body></html>
